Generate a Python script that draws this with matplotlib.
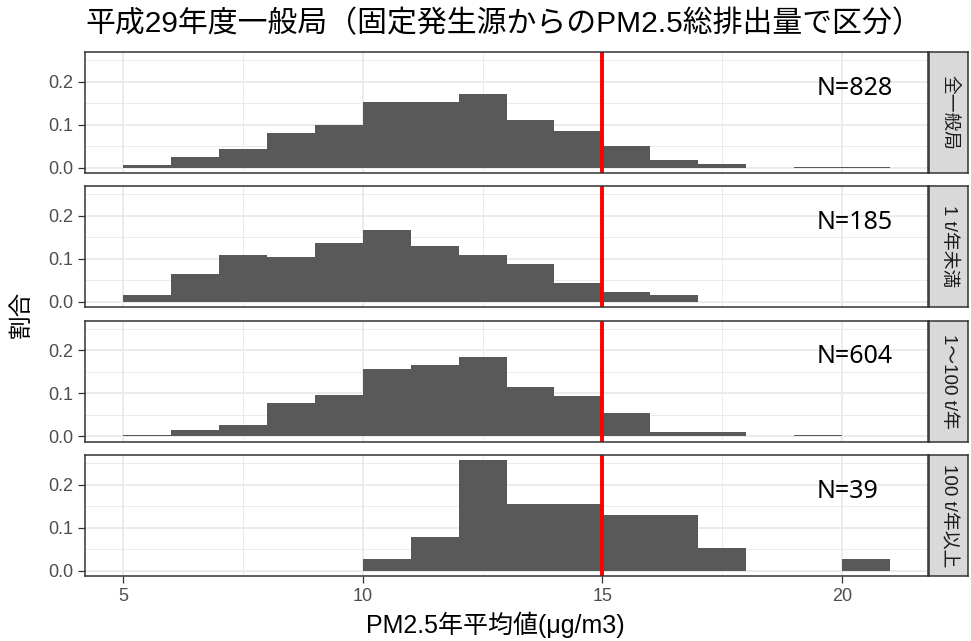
import numpy as np
import matplotlib
matplotlib.use("Agg")
import matplotlib.pyplot as plt

plt.rcParams['font.family'] = ['Liberation Sans', 'Noto Sans CJK JP', 'DejaVu Sans']

# histogram bins (1 ug/m3 wide), left edges 5..20
bin_left = np.arange(5, 21)

panel_labels = ['全一般局', '1 t/年未満', '1～100 t/年', '100 t/年以上']
n_labels = [828, 185, 604, 39]

# counts per bin for each group
counts_all = [4, 21, 35, 66, 82, 126, 127, 141, 91, 70, 42, 14, 7, 0, 1, 1]
counts_lt1 = [3, 12, 20, 19, 25, 31, 24, 20, 16, 8, 4, 3, 0, 0, 0, 0]
counts_1_100 = [1, 9, 15, 47, 57, 94, 100, 111, 69, 56, 33, 6, 5, 0, 1, 0]
counts_ge100 = [0, 0, 0, 0, 0, 1, 3, 10, 6, 6, 5, 5, 2, 0, 0, 1]
all_counts = [counts_all, counts_lt1, counts_1_100, counts_ge100]

standard = 15  # 環境基準

W, H = 971, 641
fig = plt.figure(figsize=(W / 100, H / 100), dpi=100)

left, right = 85, 928
tops = [52, 186, 320.5, 455]
ph = 121

for i, (lab, n, cnt) in enumerate(zip(panel_labels, n_labels, all_counts)):
    top = tops[i]
    ax = fig.add_axes([left / W, 1 - (top + ph) / H, (right - left) / W, ph / H])
    prop = np.array(cnt) / n
    ax.set_xlim(4.2, 21.8)
    ax.set_ylim(-0.0128, 0.269)
    ax.set_xticks([5, 10, 15, 20])
    ax.set_xticks([7.5, 12.5, 17.5], minor=True)
    ax.set_yticks([0, 0.1, 0.2])
    ax.set_yticks([0.05, 0.15, 0.25], minor=True)
    ax.set_yticklabels(['0.0', '0.1', '0.2'])
    ax.grid(which='major', color='#EBEBEB', lw=1.4)
    ax.grid(which='minor', color='#EBEBEB', lw=0.7)
    ax.set_axisbelow(True)
    ax.bar(bin_left, prop, width=1, align='edge', color='#595959', lw=0)
    ax.axvline(standard, color='red', lw=2.8)
    ax.text(19.48, 0.185, f'N={n}', ha='left', va='center', fontsize=18,
            family=['Noto Sans', 'DejaVu Sans'], color='black')
    for s in ax.spines.values():
        s.set_color('#333333')
        s.set_linewidth(1.1)
    ax.tick_params(axis='both', which='major', length=5, width=0.9, color='#333333',
                   labelsize=13, labelcolor='#4D4D4D')
    ax.tick_params(which='minor', length=0)
    if i < 3:
        ax.tick_params(axis='x', which='both', length=0, labelbottom=False)

    # facet strip on right
    sax = fig.add_axes([929 / W, 1 - (top + ph) / H, 39 / W, ph / H])
    sax.set_facecolor('#D9D9D9')
    sax.set_xticks([])
    sax.set_yticks([])
    for s in sax.spines.values():
        s.set_color('#333333')
        s.set_linewidth(1.1)
    sax.text(0.5, 0.5, lab, rotation=-90, ha='center', va='center', fontsize=13.5,
             color='#1A1A1A', transform=sax.transAxes)

fig.text(left / W, 1 - 24 / H, '平成29年度一般局（固定発生源からのPM2.5総排出量で区分）',
         ha='left', va='center', fontsize=21.5, color='black')
fig.text(495 / W, 1 - 625 / H, 'PM2.5年平均値(μg/m3)', ha='center', va='center',
         fontsize=18, color='black')
fig.text(22 / W, 1 - 314 / H, '割合', rotation=90, ha='center', va='center',
         fontsize=17, color='black')

fig.savefig('out.png', dpi=100)
